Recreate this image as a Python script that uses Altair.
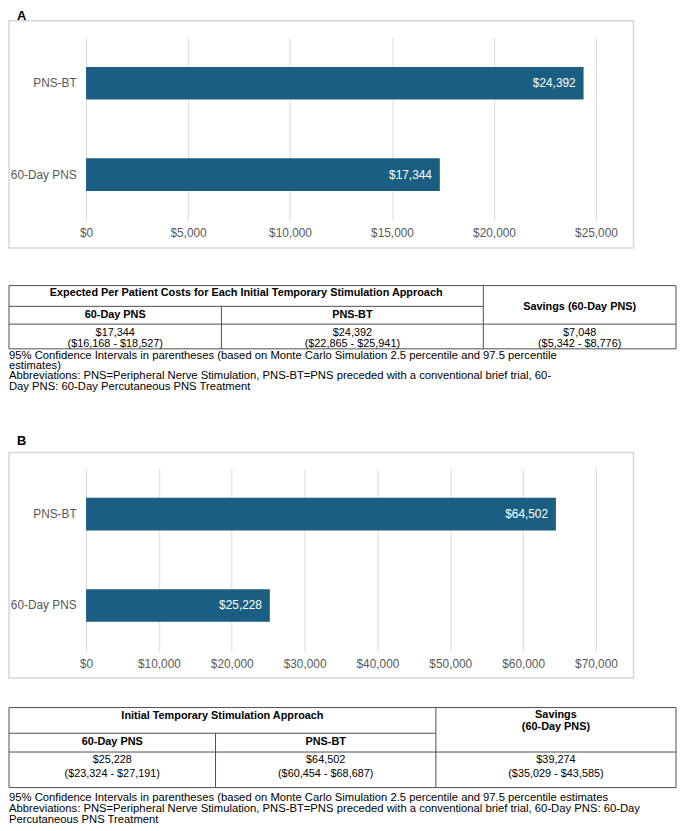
import altair as alt
import pandas as pd

# ---------------- data ----------------
categories = ["PNS-BT", "60-Day PNS"]
costs_a = [24392, 17344]
costs_b = [64502, 25228]
ticks_a = [0, 5000, 10000, 15000, 20000, 25000]
ticks_b = [0, 10000, 20000, 30000, 40000, 50000, 60000, 70000]

table_a_group = "Expected Per Patient Costs for Each Initial Temporary Stimulation Approach"
table_a_cols = ["60-Day PNS", "PNS-BT"]
table_a_savings_head = ["Savings (60-Day PNS)"]
table_a_values = ["$17,344", "$24,392", "$7,048"]
table_a_ci = ["($16,168 - $18,527)", "($22,865 - $25,941)", "($5,342 - $8,776)"]
notes_a = [
    "95% Confidence Intervals in parentheses (based on Monte Carlo Simulation 2.5 percentile and 97.5 percentile",
    "estimates)",
    "Abbreviations: PNS=Peripheral Nerve Stimulation, PNS-BT=PNS preceded with a conventional brief trial, 60-",
    "Day PNS: 60-Day Percutaneous PNS Treatment",
]

table_b_group = "Initial Temporary Stimulation Approach"
table_b_cols = ["60-Day PNS", "PNS-BT"]
table_b_savings_head = ["Savings", "(60-Day PNS)"]
table_b_values = ["$25,228", "$64,502", "$39,274"]
table_b_ci = ["($23,324 - $27,191)", "($60,454 - $68,687)", "($35,029 - $43,585)"]
notes_b = [
    "95% Confidence Intervals in parentheses (based on Monte Carlo Simulation 2.5 percentile and 97.5 percentile estimates",
    "Abbreviations: PNS=Peripheral Nerve Stimulation, PNS-BT=PNS preceded with a conventional brief trial, 60-Day PNS: 60-Day",
    "Percutaneous PNS Treatment",
]

# ---------------- style ----------------
FONT = "Liberation Sans"
BAR = "#1a5f82"
GRID = "#d9d9d9"
FRAME = "#d6d6d6"
LINE = "#4d4d4d"
LABEL = "#595959"
ORIGIN = 78
TABLE_W = 675        # full table width


def panel(costs, ticks, letter, plot_w, plot_h, right_ext, top_ext, bottom_ext, letter_y):
    df = pd.DataFrame({"approach": categories, "cost": costs})
    x = alt.X(
        "cost:Q",
        scale=alt.Scale(domain=[ticks[0], ticks[-1]], nice=False),
        axis=alt.Axis(
            values=ticks, format="$,.0f", title=None, grid=True, gridColor=GRID,
            gridWidth=1, domain=False, ticks=False, labelPadding=7, labelFlush=False,
            labelColor=LABEL, labelFontSize=12, labelFont=FONT,
        ),
    )
    y = alt.Y(
        "approach:N",
        sort=categories,
        scale=alt.Scale(paddingInner=0, paddingOuter=0),
        axis=alt.Axis(
            title=None, domain=False, ticks=False, grid=False, labelPadding=10,
            labelColor=LABEL, labelFontSize=12, labelFont=FONT,
        ),
    )
    base = alt.Chart(df).encode(x=x, y=y)
    bars = base.mark_bar(size=33, color=BAR)
    labels = base.mark_text(
        align="right", baseline="middle", dx=-8, color="white", fontSize=12, font=FONT
    ).encode(text=alt.Text("cost:Q", format="$,.0f"))
    one = pd.DataFrame({"k": [0]})
    frame = alt.Chart(one).mark_rect(
        fill="transparent", stroke=FRAME, strokeWidth=1.5
    ).encode(
        x=alt.value(-ORIGIN), x2=alt.value(plot_w + right_ext),
        y=alt.value(-top_ext), y2=alt.value(plot_h + bottom_ext),
    )
    lett = alt.Chart(one).mark_text(
        text=letter, align="left", baseline="top", fontWeight="bold",
        fontSize=13, font=FONT, color="black",
    ).encode(x=alt.value(-70), y=alt.value(letter_y))
    return alt.layer(frame, bars, labels, lett).properties(width=plot_w, height=plot_h)


def table(group, cols, sav_head, values, ci, notes, g, height):
    L = -ORIGIN
    R = TABLE_W - ORIGIN
    c1, c2 = L + g["c1"], L + g["c2"]
    top, h1, h2, bot = g["top"], g["h1"], g["h2"], g["bot"]
    lines = pd.DataFrame([
        dict(x=L, x2=R, y=top, y2=top),
        dict(x=L, x2=c2, y=h1, y2=h1),
        dict(x=L, x2=R, y=h2, y2=h2),
        dict(x=L, x2=R, y=bot, y2=bot),
        dict(x=L, x2=L, y=top, y2=bot),
        dict(x=R, x2=R, y=top, y2=bot),
        dict(x=c2, x2=c2, y=top, y2=bot),
        dict(x=c1, x2=c1, y=h1, y2=bot),
    ])
    X = lambda f: alt.X(f, scale=None, axis=None)
    Y = lambda f: alt.Y(f, scale=None, axis=None)
    rules = alt.Chart(lines).mark_rule(color=LINE, strokeWidth=1).encode(
        x=X("x:Q"), x2="x2:Q", y=Y("y:Q"), y2="y2:Q"
    )
    centers = [(L + c1) / 2, (c1 + c2) / 2, (c2 + R) / 2]
    bold_rows = [dict(x=(L + c2) / 2, y=g["group_y"], t=group)]
    for i, c in enumerate(cols):
        bold_rows.append(dict(x=centers[i], y=g["cols_y"], t=c))
    for j, s in enumerate(sav_head):
        bold_rows.append(dict(x=centers[2], y=g["sav_y"][j], t=s))
    norm_rows = []
    for i in range(3):
        norm_rows.append(dict(x=centers[i], y=g["val_y"], t=values[i]))
        norm_rows.append(dict(x=centers[i], y=g["ci_y"], t=ci[i]))
    note_rows = [dict(x=L, y=g["note_y"] + k * g["note_dy"], t=n) for k, n in enumerate(notes)]
    bold = alt.Chart(pd.DataFrame(bold_rows)).mark_text(
        align="center", baseline="middle", fontWeight="bold", fontSize=11, font=FONT, color="black"
    ).encode(x=X("x:Q"), y=Y("y:Q"), text="t:N")
    norm = alt.Chart(pd.DataFrame(norm_rows)).mark_text(
        align="center", baseline="middle", fontSize=11, font=FONT, color="black"
    ).encode(x=X("x:Q"), y=Y("y:Q"), text="t:N")
    note = alt.Chart(pd.DataFrame(note_rows)).mark_text(
        align="left", baseline="middle", fontSize=11.4, font=FONT, color="black"
    ).encode(x=X("x:Q"), y=Y("y:Q"), text="t:N")
    return alt.layer(rules, bold, norm, note).properties(width=R, height=height)


panel_a = panel(costs_a, ticks_a, "A", 516, 185, 38, 17, 28, -28)
geom_a = dict(c1=215, c2=480, top=37, h1=58, h2=76, bot=101,
              group_y=45, cols_y=67, sav_y=[59], val_y=85.5, ci_y=96.3,
              note_y=108, note_dy=10.5)
table_a = table(table_a_group, table_a_cols, table_a_savings_head, table_a_values,
                table_a_ci, notes_a, geom_a, 188)

panel_b = panel(costs_b, ticks_b, "B", 516, 185, 38, 16, 27, -34)
geom_b = dict(c1=209, c2=432, top=29, h1=55, h2=74, bot=110,
              group_y=37.5, cols_y=64, sav_y=[37, 48.5], val_y=82, ci_y=96,
              note_y=121, note_dy=11)
table_b = table(table_b_group, table_b_cols, table_b_savings_head, table_b_values,
                table_b_ci, notes_b, geom_b, 148)

chart = alt.vconcat(panel_a, table_a, panel_b, table_b, spacing=0).properties(
    padding={"left": 0, "top": -3, "right": 0, "bottom": 0}
).configure(font=FONT).configure_view(stroke=None)

chart.save("out.html", embed_options={"renderer": "svg", "actions": False})
